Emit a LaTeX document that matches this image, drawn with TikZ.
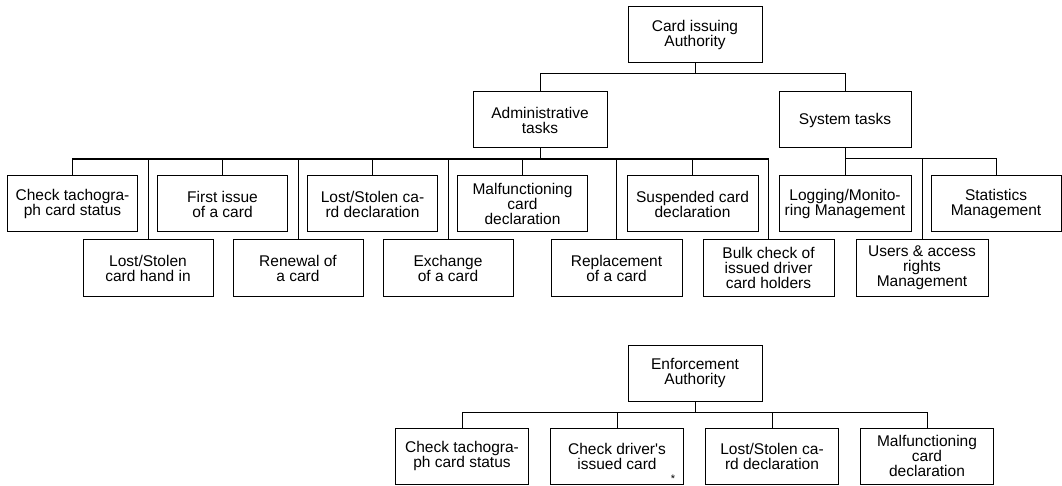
\documentclass[tikz,border=0pt]{standalone}
\usepackage{fontspec}
\setmainfont{Liberation Sans}
\begin{document}
\begin{tikzpicture}[x=1pt,y=-1pt,
  every path/.style={line width=1pt},
  box/.style={draw, line width=1pt, align=center, inner sep=0pt,
    minimum width=#1, minimum height=56pt,
    font=\fontsize{15.5}{15}\selectfont},
  box/.default=130pt,
  link/.style={draw, line width=1pt},
  bus/.style={draw, line width=1.6pt}]
\useasboundingbox (0,0) rectangle (1062,486);

% ---- card issuing authority tree ----
\node[box=134pt] (cia) at (695,35) {Card issuing\\Authority};
\node[box=134pt] (adm) at (540,120) {Administrative\\tasks};
\node[box=132pt] (sys) at (845,120) {System tasks};

% first row of administrative tasks
\node[box] (a1) at (72.5,204) {Check tachogra-\\ph card status};
\node[box] (a3) at (222.5,204) {First issue\\of a card};
\node[box] (a5) at (372.5,204) {Lost/Stolen ca-\\rd declaration};
\node[box=130pt] (a7) at (522.5,204) {Malfunctioning\\card\\declaration};
\node[box=131pt] (a9) at (692.5,204) {Suspended card\\declaration};
% second row of administrative tasks
\node[box] (a2) at (148,268) {Lost/Stolen\\card hand in};
\node[box] (a4) at (298,268) {Renewal of\\a card};
\node[box] (a6) at (448,268) {Exchange\\of a card};
\node[box=131pt] (a8) at (616.5,268) {Replacement\\of a card};
\node[box=131pt] (a10) at (768.5,268) {Bulk check of\\issued driver\\card holders};

% system tasks
\node[box=132pt] (s1) at (845,204) {Logging/Monito-\\ring Management};
\node[box] (s3) at (996,204) {Statistics\\Management};
\node[box=132pt] (s2) at (922,268) {Users \& access\\rights\\Management};

% junctions on the buses
\coordinate (tb) at (695,74);
\coordinate (ab) at (540,159);
\coordinate (sb) at (845,159);

\draw[link] (cia.south) -- (tb);
\draw[link] (tb) -| (adm.north);
\draw[link] (tb) -| (sys.north);

\draw[link] (adm.south) -- (ab);
\foreach \c in {a1,a2,a3,a4,a5,a6,a7,a8,a9,a10}
  \draw[link] (ab) -| (\c.north);
\draw[bus] (ab) -- (ab -| a1.north);
\draw[bus] (ab) -- (ab -| a10.north);

\draw[link] (sys.south) -- (sb);
\foreach \c in {s1,s2,s3}
  \draw[link] (sb) -| (\c.north);

% ---- enforcement authority tree ----
\node[box=134pt] (ea) at (695,373) {Enforcement\\Authority};
\node[box=133pt] (e1) at (462,456) {Check tachogra-\\ph card status};
\node[box=133pt] (e2) at (617,456) {Check driver\textquotesingle s\\issued card};
\node[box=133pt] (e3) at (772,456) {Lost/Stolen ca-\\rd declaration};
\node[box=133pt] (e4) at (927,456) {Malfunctioning\\card\\declaration};
\node[font=\fontsize{11}{11}\selectfont, inner sep=0pt] (ast) at (673,479) {*};

\coordinate (eb) at (695,412);
\draw[link] (ea.south) -- (eb);
\foreach \c in {e1,e2,e3,e4}
  \draw[link] (eb) -| (\c.north);
\end{tikzpicture}
\end{document}
